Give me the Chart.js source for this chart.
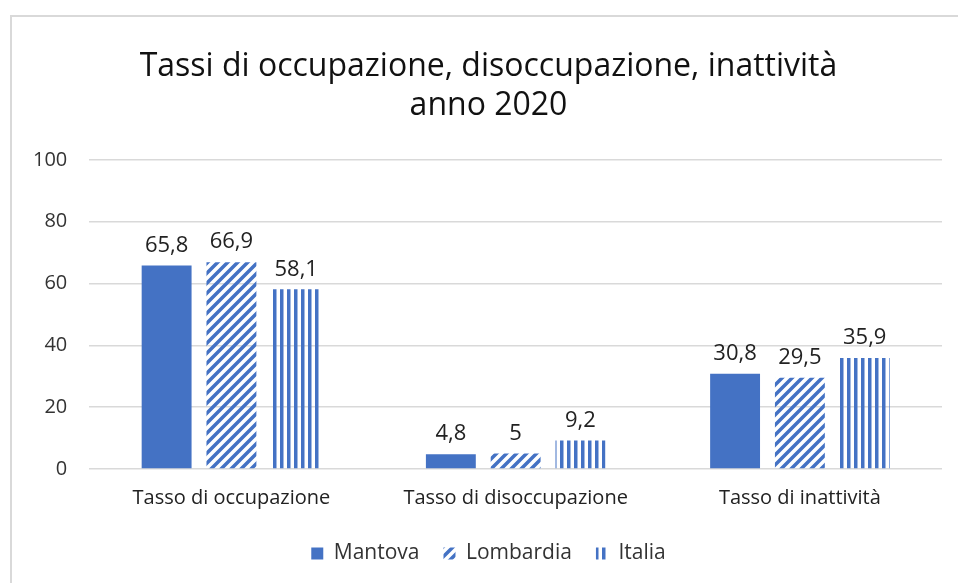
<!DOCTYPE html>
<html>
<head>
<meta charset="utf-8">
<script src="https://cdn.jsdelivr.net/npm/chart.js@4.4.0/dist/chart.umd.min.js"></script>
<style>
  html, body { margin: 0; padding: 0; background: #fff; overflow: hidden; }
  #frame { position: absolute; left: 10px; top: 15px; width: 970px; height: 600px; border: 2px solid #d9d9d9; box-sizing: border-box; }
  #wrap { position: absolute; left: 0; top: 0; width: 982px; height: 583px; }
</style>
</head>
<body>
<div id="frame"></div>
<div id="wrap"><canvas id="chart" width="982" height="583"></canvas></div>
<script>
// dati
const categories = ['Tasso di occupazione', 'Tasso di disoccupazione', 'Tasso di inattività'];
const mantova = [65.8, 4.8, 30.8];
const lombardia = [66.9, 5, 29.5];
const italia = [58.1, 9.2, 35.9];
const yTicks = [0, 20, 40, 60, 80, 100];

const BLUE = '#4472C4';
const FONT = "'Open Sans', sans-serif";

// pattern a righe diagonali
function diagPattern() {
    const c = document.createElement('canvas');
    c.width = 10; c.height = 10;
    const g = c.getContext('2d');
    g.strokeStyle = BLUE;
    g.lineWidth = 3.5;
    g.beginPath();
    g.moveTo(-2, 12); g.lineTo(12, -2);
    g.moveTo(-2, 2); g.lineTo(2, -2);
    g.moveTo(8, 12); g.lineTo(12, 8);
    g.stroke();
    return g.createPattern(c, 'repeat');
}

// pattern a righe verticali
function vertPattern() {
    const c = document.createElement('canvas');
    c.width = 7; c.height = 7;
    const g = c.getContext('2d');
    g.fillStyle = BLUE;
    g.fillRect(0, 0, 3.5, 7);
    return g.createPattern(c, 'repeat');
}

const fmt = v => v.toString().replace('.', ',');

const dataLabels = {
    id: 'dataLabels',
    afterDatasetsDraw(chart) {
        const ctx = chart.ctx;
        ctx.save();
        ctx.font = "22px " + FONT;
        ctx.fillStyle = '#222';
        ctx.textAlign = 'center';
        ctx.textBaseline = 'bottom';
        chart.data.datasets.forEach((ds, i) => {
            chart.getDatasetMeta(i).data.forEach((bar, j) => {
                ctx.fillText(fmt(ds.data[j]), bar.x, bar.y - 9);
            });
        });
        ctx.restore();
    }
};

new Chart(document.getElementById('chart'), {
    type: 'bar',
    data: {
        labels: categories,
        datasets: [
            { label: 'Mantova', data: mantova, backgroundColor: BLUE },
            { label: 'Lombardia', data: lombardia, backgroundColor: diagPattern() },
            { label: 'Italia', data: italia, backgroundColor: vertPattern() }
        ]
    },
    options: {
        responsive: false,
        animation: false,
        categoryPercentage: 0.684,
        barPercentage: 0.77,
        layout: { padding: { left: 11, right: 16, top: 0, bottom: 9 } },
        plugins: {
            title: {
                display: true,
                text: ['Tassi di occupazione, disoccupazione, inattività', 'anno 2020'],
                font: { family: FONT, size: 32, weight: 'normal' },
                color: '#111',
                lineHeight: 1.3,
                padding: { top: 48, bottom: 35 }
            },
            legend: {
                position: 'bottom',
                labels: {
                    font: { family: FONT, size: 21 },
                    color: '#333',
                    boxWidth: 12,
                    boxHeight: 12,
                    padding: 24
                }
            },
            tooltip: { enabled: false }
        },
        scales: {
            x: {
                grid: { display: false },
                border: { display: false },
                ticks: { font: { family: FONT, size: 20 }, color: '#222', padding: 9 }
            },
            y: {
                min: 0,
                max: 100,
                afterBuildTicks: axis => { axis.ticks = yTicks.map(v => ({ value: v })); },
                grid: { color: '#d9d9d9', lineWidth: 1.5, drawTicks: false },
                border: { display: false },
                ticks: { font: { family: FONT, size: 20 }, color: '#333', padding: 22 }
            },
            // spazio vuoto a destra
            yRight: {
                position: 'right',
                min: 0,
                max: 100,
                grid: { display: false, drawTicks: false },
                border: { display: false },
                ticks: { display: false },
                afterFit: axis => { axis.width = 24; }
            }
        }
    },
    plugins: [dataLabels]
});
</script>
</body>
</html>
